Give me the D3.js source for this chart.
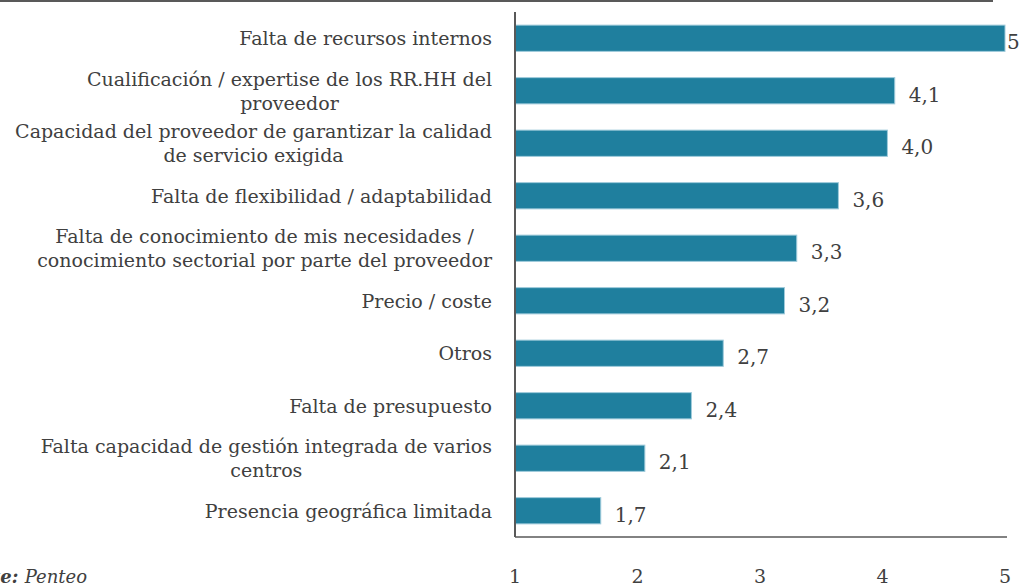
<!DOCTYPE html>
<html>
  <head>
    <meta charset="utf-8">
    <title>chart</title>
    <script type="text/javascript" src="https://d3js.org/d3.v7.min.js"></script>
    <style>
      body{margin:0;background:#fff;}
      svg{display:block;font-family:"DejaVu Serif","Liberation Serif",serif;}
    </style>
  </head>
  <body>
    <svg width="1024" height="588"></svg>
    <script>
    	// datos
    	var categories = [
    		["Falta de recursos internos"],
    		["Cualificación / expertise de los RR.HH del", "proveedor"],
    		["Capacidad del proveedor de garantizar la calidad", "de servicio exigida"],
    		["Falta de flexibilidad / adaptabilidad"],
    		["Falta de conocimiento de mis necesidades /", "conocimiento sectorial por parte del proveedor"],
    		["Precio / coste"],
    		["Otros"],
    		["Falta de presupuesto"],
    		["Falta capacidad de gestión integrada de varios", "centros"],
    		["Presencia geográfica limitada"]
    	];
    	var values = [5, 4.1, 4.04, 3.64, 3.3, 3.2, 2.7, 2.44, 2.06, 1.7];
    	var valueLabels = ["5", "4,1", "4,0", "3,6", "3,3", "3,2", "2,7", "2,4", "2,1", "1,7"];
    	var ticks = [1, 2, 3, 4, 5];

    	var svg = d3.select("svg");
    	var textColor = "#404040";
    	var axisColor = "#595959";
    	var barColor = "#1f7f9e";

    	var x = d3.scaleLinear().domain([1, 5]).range([515, 1005]);
    	var y = d3.scaleBand().domain(d3.range(categories.length)).range([12, 537])
    		.paddingInner(0.5).paddingOuter(0.25);

    	// linea superior (título recortado)
    	svg.append("line")
    		.attr("x1", 0).attr("x2", 993)
    		.attr("y1", 1).attr("y2", 1)
    		.attr("stroke", axisColor).attr("stroke-width", 2);

    	// barras
    	svg.append("g").selectAll("rect")
    		.data(values)
    		.enter()
    		.append("rect")
    		.attr("x", x(1))
    		.attr("y", function(d, i){ return y(i); })
    		.attr("width", function(d){ return x(d) - x(1); })
    		.attr("height", y.bandwidth())
    		.attr("fill", barColor)
    		.attr("stroke", "#9fcbdb")
    		.attr("stroke-width", 1);

    	// etiquetas de valor
    	svg.append("g").selectAll("text")
    		.data(values)
    		.enter()
    		.append("text")
    		.attr("x", function(d){ return Math.min(x(d) + 14, 1007); })
    		.attr("y", function(d, i){ return y(i) + y.bandwidth() / 2 + 11; })
    		.attr("font-size", 20)
    		.attr("fill", textColor)
    		.text(function(d, i){ return valueLabels[i]; });

    	// ejes
    	svg.append("line")
    		.attr("x1", x(1)).attr("x2", x(1))
    		.attr("y1", 12).attr("y2", 537)
    		.attr("stroke", axisColor).attr("stroke-width", 2);
    	svg.append("line")
    		.attr("x1", x(1)).attr("x2", x(5) + 2)
    		.attr("y1", 537).attr("y2", 537)
    		.attr("stroke", axisColor).attr("stroke-width", 1.5);

    	svg.append("g").selectAll("text")
    		.data(ticks)
    		.enter()
    		.append("text")
    		.attr("x", function(d){ return x(d); })
    		.attr("y", 583)
    		.attr("text-anchor", "middle")
    		.attr("font-size", 19)
    		.attr("fill", textColor)
    		.text(function(d){ return d; });

    	// etiquetas de categoría
    	var labelRight = 492;
    	var lineH = 24;
    	var cats = svg.append("g").selectAll("g")
    		.data(categories)
    		.enter()
    		.append("g");
    	cats.each(function(lines, i){
    		var g = d3.select(this);
    		var cy = y(i) + y.bandwidth() / 2;
    		var texts = lines.map(function(l, j){
    			return g.append("text")
    				.attr("y", cy + (j - (lines.length - 1) / 2) * lineH + 7)
    				.attr("font-size", 19)
    				.attr("fill", textColor)
    				.attr("text-anchor", "middle")
    				.text(l);
    		});
    		var w = d3.max(texts, function(t){ return t.node().getComputedTextLength(); });
    		texts.forEach(function(t){ t.attr("x", labelRight - w / 2); });
    	});

    	// fuente
    	var src = svg.append("text")
    		.attr("x", 87)
    		.attr("y", 583)
    		.attr("text-anchor", "end")
    		.attr("font-size", 18)
    		.attr("fill", textColor);
    	src.append("tspan").attr("font-weight", "bold").attr("font-style", "italic").text("Fuente: ");
    	src.append("tspan").attr("font-style", "italic").text("Penteo");
    </script>
  </body>
</html>
